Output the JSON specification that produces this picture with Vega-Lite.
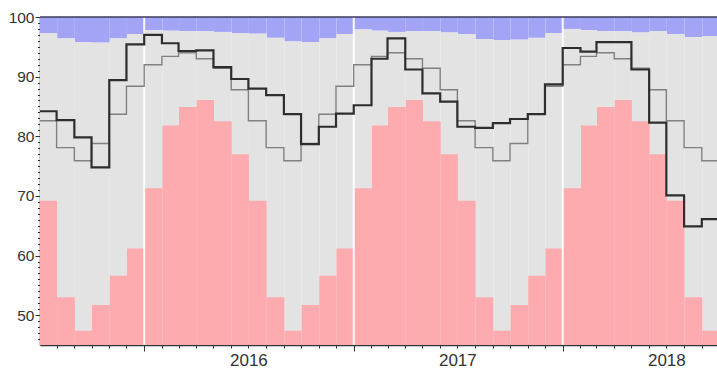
{
  "$schema": "https://vega.github.io/schema/vega-lite/v6.json",
  "width": 677,
  "height": 328,
  "autosize": {"type": "none"},
  "padding": {"left": 40, "top": 17, "right": 0, "bottom": 24},
  "background": "white",
  "config": {
    "view": {"stroke": null},
    "axis": {"labelOverlap": false, "labelFlush": false, "labelBound": false, "grid": false, "title": null}
  },
  "datasets": {
    "monthly": [
      {"date": "2015-07-01", "obs": 84.2, "clim": 82.6, "pink": 69.2, "upper": 97.3},
      {"date": "2015-08-01", "obs": 82.7, "clim": 78.1, "pink": 53.0, "upper": 96.4},
      {"date": "2015-09-01", "obs": 79.8, "clim": 75.9, "pink": 47.4, "upper": 95.8},
      {"date": "2015-10-01", "obs": 74.8, "clim": 78.8, "pink": 51.7, "upper": 95.7},
      {"date": "2015-11-01", "obs": 89.4, "clim": 83.7, "pink": 56.6, "upper": 96.4},
      {"date": "2015-12-01", "obs": 95.4, "clim": 88.4, "pink": 61.2, "upper": 97.1},
      {"date": "2016-01-01", "obs": 97.0, "clim": 92.0, "pink": 71.3, "upper": 97.8},
      {"date": "2016-02-01", "obs": 95.6, "clim": 93.4, "pink": 81.8, "upper": 97.7},
      {"date": "2016-03-01", "obs": 94.3, "clim": 94.0, "pink": 84.9, "upper": 97.6},
      {"date": "2016-04-01", "obs": 94.4, "clim": 93.0, "pink": 86.1, "upper": 97.6},
      {"date": "2016-05-01", "obs": 91.6, "clim": 91.4, "pink": 82.5, "upper": 97.5},
      {"date": "2016-06-01", "obs": 89.6, "clim": 87.8, "pink": 77.0, "upper": 97.3},
      {"date": "2016-07-01", "obs": 88.0, "clim": 82.6, "pink": 69.2, "upper": 97.2},
      {"date": "2016-08-01", "obs": 86.9, "clim": 78.1, "pink": 53.0, "upper": 96.5},
      {"date": "2016-09-01", "obs": 83.7, "clim": 75.9, "pink": 47.4, "upper": 95.9},
      {"date": "2016-10-01", "obs": 78.7, "clim": 78.8, "pink": 51.7, "upper": 95.8},
      {"date": "2016-11-01", "obs": 81.6, "clim": 83.7, "pink": 56.6, "upper": 96.4},
      {"date": "2016-12-01", "obs": 83.8, "clim": 88.4, "pink": 61.2, "upper": 97.1},
      {"date": "2017-01-01", "obs": 85.2, "clim": 92.0, "pink": 71.3, "upper": 97.9},
      {"date": "2017-02-01", "obs": 93.0, "clim": 93.4, "pink": 81.8, "upper": 97.7},
      {"date": "2017-03-01", "obs": 96.4, "clim": 94.0, "pink": 84.9, "upper": 97.5},
      {"date": "2017-04-01", "obs": 91.2, "clim": 93.0, "pink": 86.1, "upper": 97.6},
      {"date": "2017-05-01", "obs": 87.2, "clim": 91.4, "pink": 82.5, "upper": 97.6},
      {"date": "2017-06-01", "obs": 85.8, "clim": 87.8, "pink": 77.0, "upper": 97.4},
      {"date": "2017-07-01", "obs": 81.6, "clim": 82.6, "pink": 69.2, "upper": 97.1},
      {"date": "2017-08-01", "obs": 81.4, "clim": 78.1, "pink": 53.0, "upper": 96.3},
      {"date": "2017-09-01", "obs": 82.2, "clim": 75.9, "pink": 47.4, "upper": 96.1},
      {"date": "2017-10-01", "obs": 82.9, "clim": 78.8, "pink": 51.7, "upper": 96.2},
      {"date": "2017-11-01", "obs": 83.7, "clim": 83.7, "pink": 56.6, "upper": 96.5},
      {"date": "2017-12-01", "obs": 88.7, "clim": 88.4, "pink": 61.2, "upper": 97.3},
      {"date": "2018-01-01", "obs": 94.8, "clim": 92.0, "pink": 71.3, "upper": 98.0},
      {"date": "2018-02-01", "obs": 94.2, "clim": 93.4, "pink": 81.8, "upper": 97.8},
      {"date": "2018-03-01", "obs": 95.8, "clim": 94.0, "pink": 84.9, "upper": 97.6},
      {"date": "2018-04-01", "obs": 95.8, "clim": 93.0, "pink": 86.1, "upper": 97.6},
      {"date": "2018-05-01", "obs": 91.2, "clim": 91.4, "pink": 82.5, "upper": 97.4},
      {"date": "2018-06-01", "obs": 82.3, "clim": 87.8, "pink": 77.0, "upper": 97.6},
      {"date": "2018-07-01", "obs": 70.1, "clim": 82.6, "pink": 69.2, "upper": 97.1},
      {"date": "2018-08-01", "obs": 64.9, "clim": 78.1, "pink": 53.0, "upper": 96.6},
      {"date": "2018-09-01", "obs": 66.1, "clim": 75.9, "pink": 47.4, "upper": 96.8},
      {"date": "2018-10-01", "obs": 66.1, "clim": 78.8, "pink": 51.7, "upper": 96.8}
    ],
    "years": [
      {"d": "2016-01-01"},
      {"d": "2017-01-01"},
      {"d": "2018-01-01"}
    ],
    "top": [{"v": 100}]
  },
  "data": {"name": "monthly"},
  "layer": [
    {
      "mark": {"type": "bar", "color": "#a4a4f6", "clip": true, "binSpacing": 0},
      "encoding": {
        "x": {
          "field": "date", "timeUnit": "utcyearmonth", "type": "temporal", "title": null,
          "scale": {"type": "utc", "domain": [{"year": 2015, "month": 7, "date": 3, "utc": true}, {"year": 2018, "month": 9, "date": 27, "hours": 12, "utc": true}]},
          "axis": {
            "title": null,
            "tickCount": {"interval": "month", "step": 1},
            "labelExpr": "utcmonth(datum.value) === 6 ? utcFormat(datum.value, '%Y') : ''",
            "tickSize": {"condition": {"test": "utcmonth(datum.value) === 0", "value": 6}, "value": 3},
            "tickColor": "#333333", "tickWidth": 1,
            "domainColor": "#333333", "domainWidth": 1.5,
            "labelFont": "Liberation Sans", "labelFontSize": 17, "labelColor": "#333333",
            "labelOverlap": false, "labelFlush": false, "labelBound": false,
            "labelPadding": 4, "grid": false
          }
        },
        "y": {
          "field": "upper", "type": "quantitative", "title": null,
          "scale": {"domain": [45, 100], "nice": false, "zero": false},
          "axis": {
            "title": null,
            "tickCount": 200,
            "values": [46,47,48,49,50,51,52,53,54,55,56,57,58,59,60,61,62,63,64,65,66,67,68,69,70,71,72,73,74,75,76,77,78,79,80,81,82,83,84,85,86,87,88,89,90,91,92,93,94,95,96,97,98,99,100],
            "labelExpr": "datum.value % 10 === 0 ? format(datum.value, 'd') : ''",
            "tickSize": {"condition": {"test": "datum.value % 10 === 0", "value": 5}, "value": 2.5},
            "tickColor": "#333333", "tickWidth": 1,
            "domainColor": "#333333", "domainWidth": 1.5,
            "labelFont": "Liberation Sans", "labelFontSize": 15.5, "labelColor": "#333333",
            "labelOverlap": false, "labelPadding": 1, "grid": false
          }
        },
        "y2": {"datum": 100}
      }
    },
    {
      "mark": {"type": "bar", "color": "#e3e3e3", "clip": true, "binSpacing": 0},
      "encoding": {
        "x": {"field": "date", "timeUnit": "utcyearmonth", "type": "temporal", "title": null},
        "y": {"field": "upper", "type": "quantitative", "title": null},
        "y2": {"datum": 45}
      }
    },
    {
      "mark": {"type": "bar", "color": "#fdabae", "clip": true, "binSpacing": 0},
      "encoding": {
        "x": {"field": "date", "timeUnit": "utcyearmonth", "type": "temporal", "title": null},
        "y": {"field": "pink", "type": "quantitative", "title": null},
        "y2": {"datum": 45}
      }
    },
    {
      "data": {"name": "years"},
      "mark": {"type": "rule", "color": "#ffffff", "strokeWidth": 2, "opacity": 0.9},
      "encoding": {
        "x": {"field": "d", "type": "temporal", "title": null}
      }
    },
    {
      "mark": {"type": "line", "interpolate": "step-after", "color": "#808080", "strokeWidth": 1.4, "clip": true},
      "encoding": {
        "x": {"field": "date", "type": "temporal", "title": null},
        "y": {"field": "clim", "type": "quantitative", "title": null}
      }
    },
    {
      "mark": {"type": "line", "interpolate": "step-after", "color": "#2e2e2e", "strokeWidth": 2.2, "clip": true},
      "encoding": {
        "x": {"field": "date", "type": "temporal", "title": null},
        "y": {"field": "obs", "type": "quantitative", "title": null}
      }
    },
    {
      "data": {"name": "top"},
      "mark": {"type": "rule", "color": "#3a3a58", "strokeWidth": 1.5},
      "encoding": {
        "y": {"field": "v", "type": "quantitative", "title": null}
      }
    }
  ]
}
